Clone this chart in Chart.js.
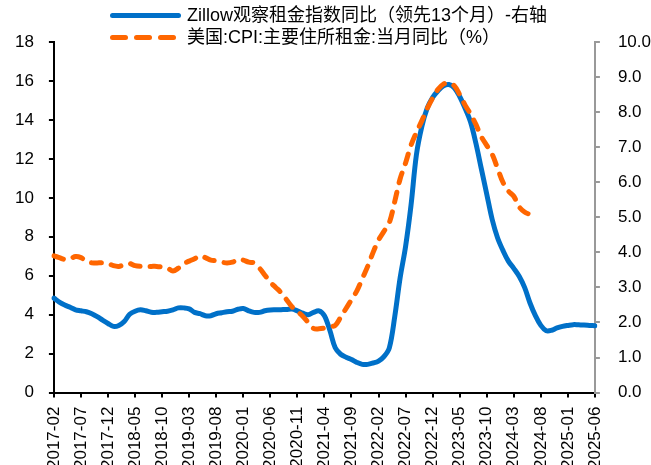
<!DOCTYPE html>
<html lang="zh-CN">
<head>
<meta charset="utf-8">
<script src="https://cdn.jsdelivr.net/npm/chart.js@4.4.1/dist/chart.umd.min.js"></script>
<style>
    html, body {
        margin: 0;
        padding: 0;
        background: #fff;
        overflow: hidden;
    }

    #wrap {
        position: relative;
        width: 651px;
        height: 465px;
        overflow: hidden;
    }

    #legend {
        position: absolute;
        left: 110px;
        top: 4px;
        font-family: "Liberation Sans", Arial, "Noto Sans CJK SC", sans-serif;
        font-size: 18px;
        color: #000;
        line-height: 22px;
    }

    .row {
        display: flex;
        align-items: center;
        height: 22px;
        white-space: nowrap;
    }

    .swatch {
        display: flex;
        width: 71px;
        margin-right: 6px;
    }

    .bar {
        height: 5px;
        border-radius: 3px;
    }
</style>
</head>
<body>

<div id="wrap">
    <canvas id="rentChart" width="669" height="478"></canvas>
    <div id="legend">
        <div class="row">
            <span class="swatch"><span class="bar" style="width:71px;background:#0070C8"></span></span>
            <span>Zillow观察租金指数同比（领先13个月）-右轴</span>
        </div>
        <div class="row">
            <span class="swatch">
                <span class="bar" style="width:18px;background:#FF6600;margin-right:6px"></span>
                <span class="bar" style="width:18px;background:#FF6600;margin-right:6px"></span>
                <span class="bar" style="width:18px;background:#FF6600"></span>
            </span>
            <span>美国:CPI:主要住所租金:当月同比（%）</span>
        </div>
    </div>
</div>

<script>

    // monthly, 2017-02 .. 2025-06
    var months = [];
    for (var y = 2017, m = 2; y < 2025 || (y === 2025 && m <= 6); m++) {
        if (m > 12) { m = 1; y++; }
        months.push(y + '-' + (m < 10 ? '0' + m : m));
    }

    // Zillow 租金指数同比, 领先13个月 (左轴 0-18)
    var zillowYoY = [
        4.85, 4.65, 4.5, 4.38, 4.25, 4.2, 4.15, 4.05, 3.9, 3.72,
        3.55, 3.4, 3.45, 3.65, 4.02, 4.18, 4.25, 4.2, 4.13, 4.12,
        4.15, 4.18, 4.25, 4.35, 4.35, 4.3, 4.12, 4.05, 3.95, 3.95,
        4.05, 4.1, 4.15, 4.18, 4.28, 4.32, 4.2, 4.12, 4.12, 4.2,
        4.24, 4.25, 4.26, 4.27, 4.29, 4.2, 4.08, 4.0, 4.12, 4.2,
        3.95, 3.2, 2.3, 1.97, 1.82, 1.7, 1.55, 1.45, 1.45, 1.52,
        1.62, 1.85, 2.3, 3.9, 5.9, 7.5, 9.6, 12.2, 13.65, 14.6,
        15.15, 15.5, 15.75, 15.82, 15.65, 15.2, 14.6, 13.9, 12.8, 11.5,
        10.2, 8.9, 7.95, 7.3, 6.75, 6.38, 5.97, 5.4, 4.6, 3.95,
        3.45, 3.18, 3.2, 3.32, 3.4, 3.45, 3.49, 3.48, 3.47, 3.45, 3.43
    ];

    // CPI 主要住所租金 当月同比 (右轴 0-10), ends 2024-06
    var cpiRentYoY = [
        3.9, 3.85, 3.8, 3.82, 3.88, 3.85, 3.75, 3.7, 3.7, 3.7,
        3.68, 3.62, 3.6, 3.65, 3.68, 3.62, 3.6, 3.6, 3.6, 3.6,
        3.58, 3.55, 3.47, 3.55, 3.68, 3.75, 3.82, 3.9, 3.85, 3.78,
        3.76, 3.72, 3.7, 3.72, 3.8, 3.78, 3.72, 3.7, 3.55, 3.35,
        3.15, 3.0, 2.85, 2.65, 2.45, 2.32, 2.18, 2.0, 1.83, 1.82,
        1.84, 1.88, 1.92, 2.15, 2.4, 2.65, 2.9, 3.25, 3.6, 4.0,
        4.35, 4.6, 4.85, 5.45, 6.1, 6.55, 7.05, 7.42, 7.75, 8.1,
        8.4, 8.65, 8.8, 8.82, 8.75, 8.5, 8.2, 7.95, 7.65, 7.3,
        7.05, 6.8, 6.4, 6.0, 5.75, 5.6, 5.3, 5.15, 5.08
    ];

    var leftTicks = { min: 0, max: 18, step: 2 };
    var rightTicks = { min: 0, max: 10, step: 1 };
    var labelEvery = 5;

    var tickFont = { family: '"Liberation Sans", Arial, sans-serif', size: 17 };

    var config = {
        type: 'line',
        data: {
            labels: months,
            datasets: [{
                label: 'Zillow观察租金指数同比（领先13个月）-右轴',
                data: zillowYoY,
                yAxisID: 'y',
                borderColor: '#0070C8',
                borderWidth: 5,
                borderJoinStyle: 'round',
                borderCapStyle: 'round',
                pointRadius: 0,
                tension: 0.35,
                order: 2
            }, {
                label: '美国:CPI:主要住所租金:当月同比（%）',
                data: cpiRentYoY,
                yAxisID: 'y1',
                borderColor: '#FF6600',
                borderWidth: 5,
                borderDash: [10, 10],
                borderJoinStyle: 'round',
                borderCapStyle: 'round',
                pointRadius: 0,
                tension: 0.35,
                order: 1
            }]
        },
        options: {
            responsive: false,
            animation: false,
            layout: {
                padding: { top: 42, left: 0, right: 0, bottom: 0 }
            },
            plugins: {
                legend: { display: false },
                tooltip: { enabled: false }
            },
            scales: {
                x: {
                    offset: false,
                    border: { color: '#000', width: 2 },
                    grid: {
                        drawOnChartArea: false,
                        color: '#000',
                        lineWidth: 2,
                        tickLength: 5
                    },
                    ticks: {
                        autoSkip: false,
                        maxRotation: 90,
                        minRotation: 90,
                        padding: 9,
                        color: '#000',
                        font: { family: tickFont.family, size: 17 },
                        callback: function (value, index) {
                            return index % labelEvery === 0 ? months[index] : null;
                        }
                    }
                },
                y: {
                    position: 'left',
                    min: leftTicks.min,
                    max: leftTicks.max,
                    border: { color: '#000', width: 2 },
                    grid: {
                        drawOnChartArea: false,
                        color: '#000',
                        lineWidth: 2,
                        tickLength: 5
                    },
                    ticks: {
                        stepSize: leftTicks.step,
                        padding: 15,
                        color: '#000',
                        font: tickFont
                    }
                },
                y1: {
                    position: 'right',
                    min: rightTicks.min,
                    max: rightTicks.max,
                    border: { color: '#999', width: 2 },
                    grid: {
                        drawOnChartArea: false,
                        color: '#999',
                        lineWidth: 2,
                        tickLength: 5
                    },
                    ticks: {
                        stepSize: rightTicks.step,
                        padding: 18,
                        color: '#000',
                        font: tickFont,
                        callback: function (value) {
                            return value.toFixed(1);
                        }
                    }
                }
            }
        }
    };

    var ctx = document.getElementById('rentChart').getContext('2d');
    var rentChart = new Chart(ctx, config);

</script>
</body>
</html>
